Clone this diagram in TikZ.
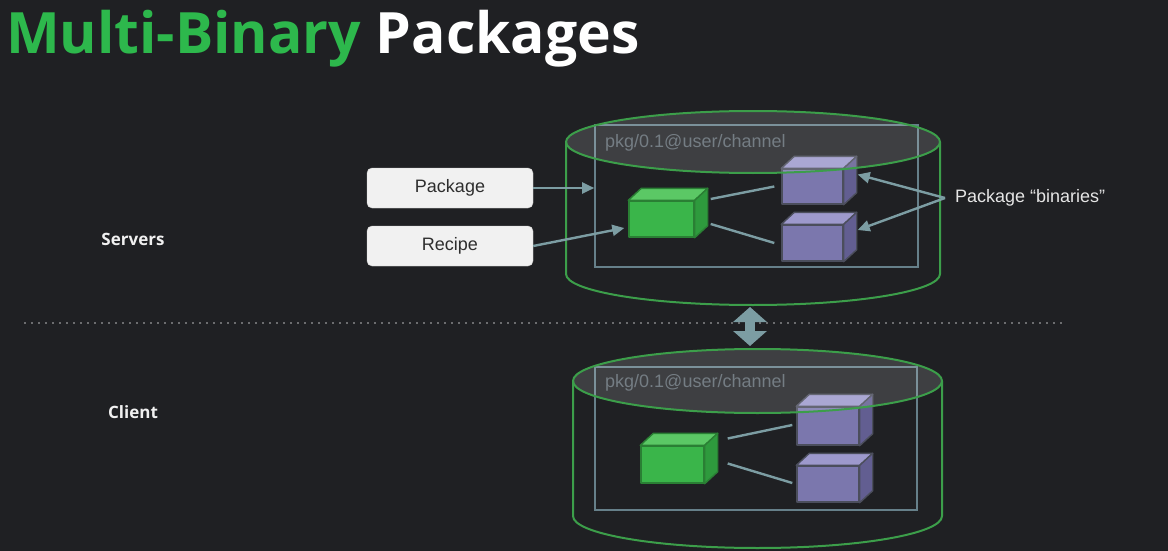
\documentclass[tikz,border=0pt]{standalone}
\usepackage{fontspec}
\setmainfont{Liberation Sans}
\newfontfamily\headfont{Open Sans}
\usetikzlibrary{arrows.meta,calc}

\definecolor{bg}{HTML}{1F2023}
\definecolor{titlegreen}{HTML}{2DB84C}
\definecolor{cylgreen}{HTML}{3C9E4A}
\definecolor{framecol}{HTML}{66808A}
\definecolor{linkcol}{HTML}{7C9DA3}
\definecolor{pkgtext}{HTML}{5E6870}
\definecolor{boxfill}{HTML}{F1F1F1}
\definecolor{boxtext}{HTML}{2E2E2E}
\definecolor{gfront}{HTML}{3AB54A}
\definecolor{gtop}{HTML}{5BC865}
\definecolor{gside}{HTML}{2E9A3D}
\definecolor{gedge}{HTML}{2A7F34}
\definecolor{pfront}{HTML}{7B77AD}
\definecolor{ptop}{HTML}{9D99CC}
\definecolor{pside}{HTML}{625E91}
\definecolor{pedge}{HTML}{4B4E5C}

\tikzset{
  labeltext/.style={font=\headfont\bfseries\fontsize{17}{20}\selectfont, text=white!94!black},
  srcbox/.style={fill=boxfill, draw=boxfill!85!black, rounded corners=5pt,
    minimum width=166, minimum height=40, inner sep=0pt,
    font=\fontsize{18}{21}\selectfont, text=boxtext},
  pkgframe/.style={draw=framecol, line width=1.6pt, inner sep=0pt},
  pkglabel/.style={anchor=west, inner sep=0pt, text=pkgtext, font=\fontsize{18}{21}\selectfont},
  greencube/.style={fill=gfront, draw=gedge, line width=1.4pt, inner sep=0pt, line join=round},
  purplecube/.style={fill=pfront, draw=pedge, line width=1.4pt, inner sep=0pt, line join=round},
  cylline/.style={draw=cylgreen, line width=2pt},
  lidfill/.style={fill=white, fill opacity=0.14},
  arr/.style={draw=linkcol, line width=2.4pt, -{Triangle[length=12pt,width=11pt]}},
  binlink/.style={draw=linkcol, line width=2.4pt},
  bigarrow/.style={draw=linkcol, line width=10pt,
    {Triangle[length=15pt,width=33pt]}-{Triangle[length=15pt,width=33pt]}},
  divider/.style={draw=white!70!bg, line width=1.8pt, line cap=round, dash pattern=on 0pt off 7pt},
}

% top and side faces of a box whose front face is node #1
\newcommand\boxfaces[4]{%
  \filldraw[fill=#2, draw=#4, line width=1.4pt, line join=round]
    (#1.north west) -- ([shift={(13,-12)}]#1.north west)
    -- ([shift={(13,-12)}]#1.north east) -- (#1.north east) -- cycle;
  \filldraw[fill=#3, draw=#4, line width=1.4pt, line join=round]
    (#1.north east) -- ([shift={(13,-12)}]#1.north east)
    -- ([shift={(13,-12)}]#1.south east) -- (#1.south east) -- cycle;
}

\begin{document}
\begin{tikzpicture}[x=1pt, y=-1pt]
  \fill[bg] (0,0) rectangle (1168,551);
  \useasboundingbox (0,0) rectangle (1168,551);

  % heading
  \node[anchor=base west, inner sep=0pt, font=\headfont\bfseries\fontsize{57}{64}\selectfont]
    (title) at (6,54) {\textcolor{titlegreen}{Multi-Binary} \textcolor{white}{Packages}};

  % side labels and divider
  \node[labeltext] (servers) at (133,239) {Servers};
  \node[labeltext] (client) at (133,412) {Client};
  \coordinate (divl) at (25,323);
  \coordinate (divr) at (1066,323);
  \draw[divider] (divl) -- (divr);

  % ---------- server repository ----------
  \node[pkgframe, minimum width=323, minimum height=142] (srvrect) at (756.5,196) {};
  \node[pkglabel] (srvpkg) at (605,143) {pkg/0.1@user/channel};

  \node[greencube, minimum width=65, minimum height=36] (g1) at (661.5,219) {};
  \boxfaces{g1}{gtop}{gside}{gedge}
  \node[purplecube, minimum width=61, minimum height=35] (p1) at (812.5,186.5) {};
  \boxfaces{p1}{ptop}{pside}{pedge}
  \node[purplecube, minimum width=61, minimum height=36] (p2) at (812.5,243) {};
  \boxfaces{p2}{ptop}{pside}{pedge}

  \draw[binlink] ($(g1.east)+(16,-20)$) -- ($(p1.west)+(-7,0)$);
  \draw[binlink] ($(g1.east)+(16,5)$) -- ($(p2.west)+(-7,0)$);

  % cylinder body and lid
  \draw[cylline] (566,142) -- (566,274) arc[start angle=180, end angle=0, x radius=187, y radius=31] -- (940,142);
  \draw[cylline, lidfill] (753,142) ellipse[x radius=187, y radius=31];

  % inputs
  \node[srcbox] (package) at (450,188) {Package};
  \node[srcbox] (recipe) at (450,246) {Recipe};
  \draw[arr] (package.east) -- (package.east -| srvrect.west);
  \draw[arr] (recipe.east) -- ($(g1.west)+(-4,9)$);

  % binaries callout
  \node[anchor=west, inner sep=0pt, text=white!90!black, font=\fontsize{18}{21}\selectfont]
    (bin) at (955,198) {Package “binaries”};
  \draw[arr] ([xshift=-10pt]bin.west) -- ($(p1.east)+(14,-12)$);
  \draw[arr] ([xshift=-10pt]bin.west) -- ($(p2.east)+(14,-13)$);

  % ---------- client cache ----------
  \node[pkgframe, minimum width=322, minimum height=143] (clirect) at (756,438.5) {};
  \node[pkglabel] (clipkg) at (605,383) {pkg/0.1@user/channel};

  \node[greencube, minimum width=63, minimum height=37] (g2) at (672.5,464.5) {};
  \boxfaces{g2}{gtop}{gside}{gedge}
  \node[purplecube, minimum width=62, minimum height=38] (p3) at (828,426) {};
  \boxfaces{p3}{ptop}{pside}{pedge}
  \node[purplecube, minimum width=62, minimum height=36] (p4) at (828,484) {};
  \boxfaces{p4}{ptop}{pside}{pedge}

  \draw[binlink] ($(g2.east)+(23,-26)$) -- ($(p3.west)+(-4,-1)$);
  \draw[binlink] ($(g2.east)+(23,-1)$) -- ($(p4.west)+(-4,-1)$);

  \draw[cylline] (573,381) -- (573,516) arc[start angle=180, end angle=0, x radius=184.5, y radius=32] -- (942,381);
  \draw[cylline, lidfill] (757.5,381) ellipse[x radius=184.5, y radius=32];

  % sync between server and client
  \coordinate (srvbase) at (750,307);
  \coordinate (clilid) at (750,346);
  \draw[bigarrow] (srvbase) -- (clilid);
\end{tikzpicture}
\end{document}
